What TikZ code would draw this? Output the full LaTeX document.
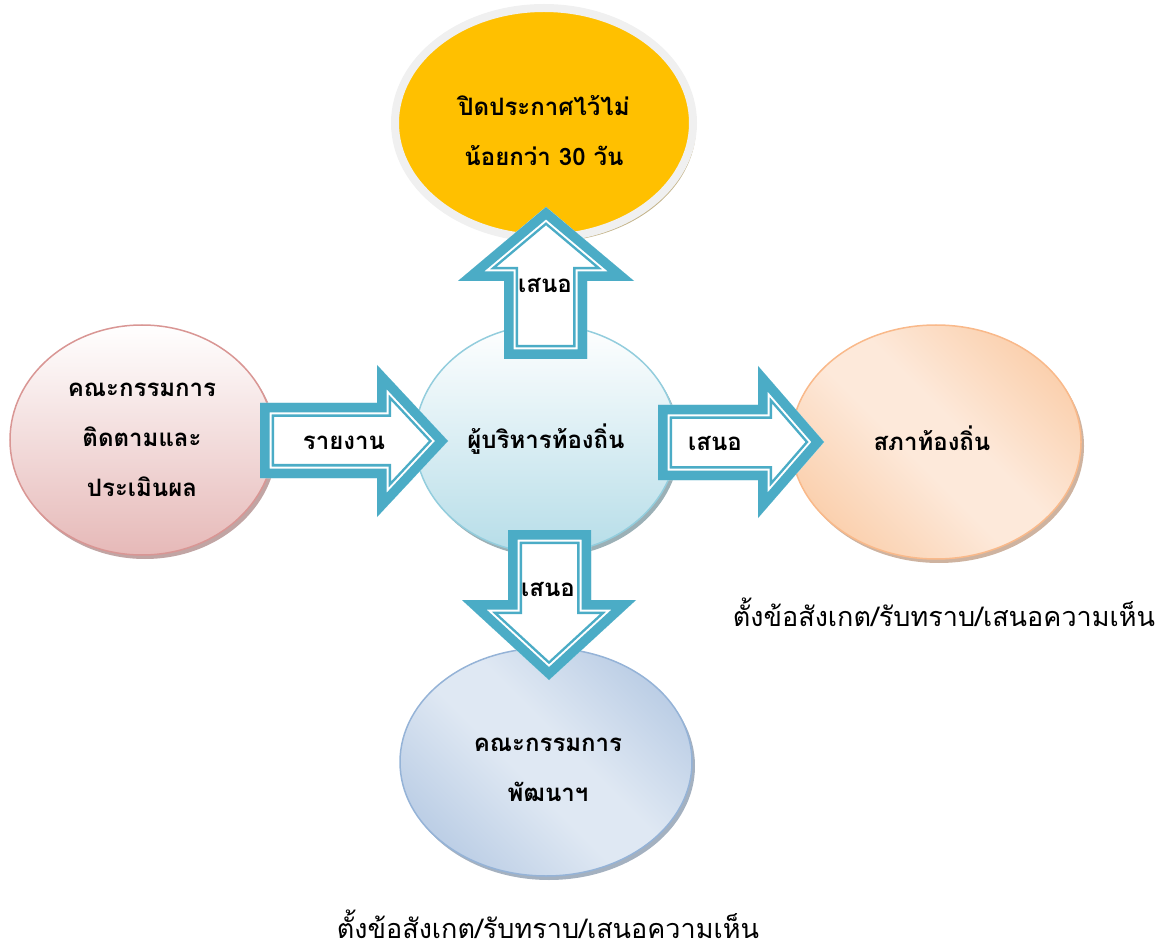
\documentclass[tikz,border=0pt]{standalone}
\usepackage{fontspec}
\usepackage{tikz}
\usetikzlibrary{shapes.geometric,shadows}
\newfontfamily\thaifont[Script=Thai]{Loma}
\definecolor{arrowteal}{HTML}{4BACC6}
\definecolor{pubfill}{HTML}{FFC000}
\definecolor{pubrim}{HTML}{F0F0F0}
\definecolor{pubshadow}{HTML}{C4B48A}
\definecolor{execline}{HTML}{93CDDD}
\definecolor{execfill}{HTML}{B6DDE8}
\definecolor{monline}{HTML}{D99694}
\definecolor{monfill}{HTML}{E6B9B8}
\definecolor{cnclline}{HTML}{F9B98A}
\definecolor{cncldark}{HTML}{F9C397}
\definecolor{cncllight}{HTML}{FDE9DA}
\definecolor{devline}{HTML}{95B3D7}
\definecolor{devdark}{HTML}{A9C0DE}
\definecolor{devlight}{HTML}{DFE8F3}
% diagonal shadings: dark - light - dark
\pgfdeclareverticalshading{cnclshade}{100bp}{color(0bp)=(cncldark); color(14bp)=(cncldark);
  color(45bp)=(cncllight); color(55bp)=(cncllight); color(86bp)=(cncldark); color(100bp)=(cncldark)}
\pgfdeclareverticalshading{devshade}{100bp}{color(0bp)=(devdark); color(14bp)=(devdark);
  color(45bp)=(devlight); color(55bp)=(devlight); color(86bp)=(devdark); color(100bp)=(devdark)}
% block arrow: thick teal band, white gap, thin teal line
\newcommand{\blockarrow}[1]{%
  \begin{scope}
    \clip #1;
    \fill[white] #1;
    \draw[arrowteal,line width=28pt] #1;
    \draw[white,line width=23pt] #1;
    \draw[arrowteal,line width=19pt] #1;
  \end{scope}}
\tikzset{
  bubble/.style={ellipse, inner sep=0pt, align=center, line width=1.5pt,
    font=\thaifont\bfseries\fontsize{24}{50}\selectfont},
  label/.style={font=\thaifont\bfseries\fontsize{24}{28}\selectfont},
  note/.style={font=\thaifont\fontsize{27}{30}\selectfont}
}

\begin{document}
\begin{tikzpicture}[x=1pt, y=-1pt]
\useasboundingbox (0,0) rectangle (1165,949);
% ellipses
\node[bubble, minimum width=298pt, minimum height=230pt, draw=pubrim, line width=8pt,
  fill=pubfill, drop shadow={shadow xshift=3pt, shadow yshift=-4pt, fill=pubshadow, opacity=1}]
  (publish) at (544,123) {};
\node[bubble, align=center] (publishtxt) at ([yshift=-8pt]publish.center) {ปิดประกาศไว้ไม่\\น้อยกว่า 30 วัน};
\node[bubble, minimum width=264pt, minimum height=230pt, draw=monline,
  top color=white, bottom color=monfill,
  drop shadow={shadow xshift=3pt, shadow yshift=-4pt, fill=monline!70!black, opacity=.6}]
  (monitor) at (142,440) {คณะกรรมการ\\ติดตามและ\\ประเมินผล};
\node[bubble, minimum width=262pt, minimum height=228pt, draw=execline,
  top color=white, bottom color=execfill,
  drop shadow={shadow xshift=3pt, shadow yshift=-4pt, fill=execline!60!black, opacity=.6}]
  (exec) at (546,439) {ผู้บริหารท้องถิ่น};
\node[bubble, minimum width=290pt, minimum height=234pt, draw=cnclline,
  shading=cnclshade, shading angle=-45,
  drop shadow={shadow xshift=3pt, shadow yshift=-4pt, fill=cnclline!70!black, opacity=.6}]
  (council) at (936,442) {};
\node[bubble] (counciltxt) at ([xshift=-4pt,yshift=4pt]council.center) {สภาท้องถิ่น};
\node[bubble, minimum width=292pt, minimum height=228pt, draw=devline,
  shading=devshade, shading angle=-45,
  drop shadow={shadow xshift=3pt, shadow yshift=-4pt, fill=devline!70!black, opacity=.6}]
  (devcom) at (546,762) {};
\node[bubble] (devcomtxt) at ([xshift=2pt,yshift=-8pt]devcom.center) {คณะกรรมการ\\พัฒนาฯ};
% arrows
\blockarrow{(504,359) -- (504,281) -- (458,281) -- (546,207) -- (634,281) -- (587,281) -- (587,359) -- cycle}
\blockarrow{(260,403) -- (377,403) -- (377,365) -- (448,441) -- (377,517) -- (377,478) -- (260,478) -- cycle}
\blockarrow{(658,405) -- (758,405) -- (758,366) -- (824,442) -- (758,518) -- (758,480) -- (658,480) -- cycle}
\blockarrow{(508,530) -- (591,530) -- (591,600) -- (636,600) -- (549,680) -- (462,600) -- (508,600) -- cycle}
% arrow labels
\node[label] (propose1) at (545,285) {เสนอ};
\node[label] (report) at (344,443) {รายงาน};
\node[label] (propose2) at (715,443) {เสนอ};
\node[label] (propose3) at (548,589) {เสนอ};
% notes
\node[note] (note1) at (944,612) {ตั้งข้อสังเกต/รับทราบ/เสนอความเห็น};
\node[note] (note2) at (548,924) {ตั้งข้อสังเกต/รับทราบ/เสนอความเห็น};
\end{tikzpicture}
\end{document}
